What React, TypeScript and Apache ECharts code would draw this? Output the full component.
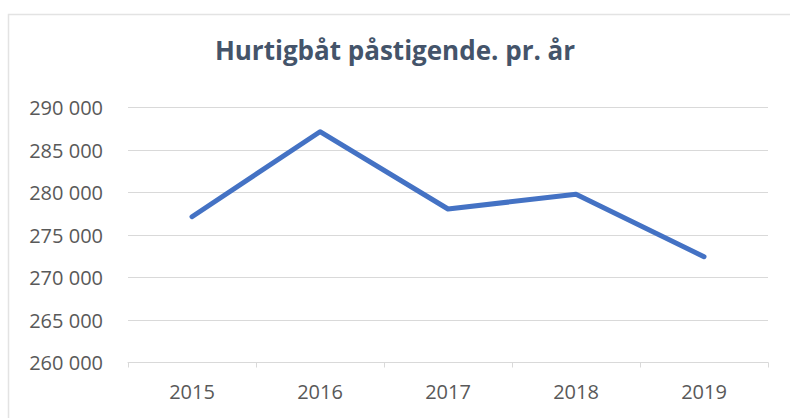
import React, { useEffect, useRef } from "react";
import * as echarts from "echarts";

const titleText = "Hurtigbåt påstigende. pr. år";
const categories = ["2015", "2016", "2017", "2018", "2019"];
const passengers = [277150, 287150, 278060, 279790, 272450];
const yMin = 260000;
const yMax = 290000;
const yStep = 5000;

function formatThousands(v: number): string {
  return String(v).replace(/\B(?=(\d{3})+(?!\d))/g, " ");
}

export default function App() {
  const ref = useRef<HTMLDivElement>(null);
  useEffect(() => {
    document.body.style.margin = "0";
    if (!ref.current) return;
    const chart = echarts.init(ref.current, undefined, { renderer: "svg" });
    const font = "'Open Sans', 'Noto Sans', sans-serif";
    chart.setOption({
      animation: false,
      backgroundColor: "#ffffff",
      title: {
        text: titleText,
        left: "center",
        top: 32,
        textStyle: {
          fontFamily: font,
          fontSize: 26,
          fontWeight: "bold",
          color: "#44546A",
        },
      },
      graphic: [
        {
          type: "rect",
          shape: { x: 8.5, y: 14.5, width: 800, height: 420 },
          style: { fill: "none", stroke: "#E3E3E3", lineWidth: 1.5 },
          silent: true,
          z: -1,
        },
      ],
      grid: { left: 128, right: 22, top: 107.5, bottom: 55.5 },
      xAxis: {
        type: "category",
        data: categories,
        boundaryGap: true,
        axisLine: { show: true, lineStyle: { color: "#D9D9D9", width: 1 } },
        axisTick: { show: true, interval: 0, length: 5, lineStyle: { color: "#D9D9D9" } },
        axisLabel: {
          margin: 19,
          fontFamily: font,
          fontSize: 20,
          color: "#595959",
        },
        splitLine: { show: false },
      },
      yAxis: {
        type: "value",
        min: yMin,
        max: yMax,
        interval: yStep,
        axisLine: { show: false },
        axisTick: { show: false },
        axisLabel: {
          margin: 25,
          fontFamily: font,
          fontSize: 20,
          color: "#595959",
          formatter: (v: number) => formatThousands(v),
        },
        splitLine: { show: true, lineStyle: { color: "#D9D9D9", width: 1 } },
      },
      series: [
        {
          type: "line",
          data: passengers,
          symbol: "none",
          lineStyle: { color: "#4472C4", width: 5, cap: "round", join: "round" },
        },
      ],
    });
    return () => chart.dispose();
  }, []);
  return <div ref={ref} style={{ width: 790, height: 418 }} />;
}
